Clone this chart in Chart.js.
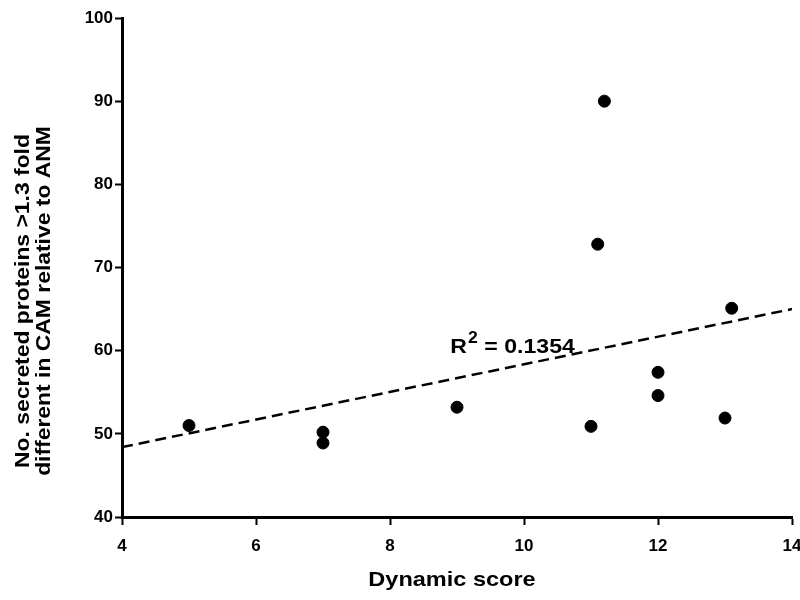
<!DOCTYPE html>
<html>
<head>
<meta charset="utf-8">
<script src="https://cdn.jsdelivr.net/npm/chart.js@4.4.1/dist/chart.umd.min.js"></script>
<style>
  html, body { margin: 0; padding: 0; background: #fff; }
  #wrap { width: 800px; height: 600px; }
</style>
</head>
<body>
<div id="wrap"><canvas id="scoreChart"></canvas></div>
<script>
// values
const dynamicScore = [5, 7, 7, 9, 11, 11.1, 11.2, 12, 12, 13, 13.1]
const secretedCount = [51, 50.2, 48.9, 53.2, 50.9, 72.8, 90, 57.4, 54.6, 51.9, 65.1]
const trendX = [4, 14]
const trendY = [48.4, 65.0]
const xTickValues = [4, 6, 8, 10, 12, 14]
const yTickValues = [40, 50, 60, 70, 80, 90, 100]
const xTitle = "Dynamic score"
const yTitleLines = ["No. secreted proteins >1.3 fold", "different in CAM relative to ANM"]
const rSquared = "0.1354"
const rLabelAt = [8.9, 60]

const FONT = "'Liberation Sans', Arial, sans-serif"

// axis titles and the R² note, drawn after the chart
const textPlugin = {
  id: "texts",
  afterDraw(chart) {
    const { ctx, chartArea, scales } = chart
    ctx.save()
    ctx.fillStyle = "#000"

    // x title
    ctx.font = "bold 21px " + FONT
    ctx.textAlign = "center"
    ctx.textBaseline = "middle"
    ctx.save()
    ctx.translate((chartArea.left + chartArea.right) / 2 - 5, 580)
    ctx.scale(1.12, 1)
    ctx.fillText(xTitle, 0, 0)
    ctx.restore()

    // y title, two lines
    ctx.save()
    ctx.translate(0, 301)
    ctx.rotate(-Math.PI / 2)
    ctx.scale(1.09, 1)
    ctx.fillText(yTitleLines[0], 0, 23)
    ctx.fillText(yTitleLines[1], 0, 44)
    ctx.restore()

    // R² = ...
    const px = scales.x.getPixelForValue(rLabelAt[0])
    const py = scales.y.getPixelForValue(rLabelAt[1])
    ctx.textAlign = "left"
    ctx.textBaseline = "alphabetic"
    ctx.translate(px, py)
    ctx.scale(1.1, 1)
    ctx.font = "bold 21px " + FONT
    ctx.fillText("R", 0, 2)
    let w = ctx.measureText("R").width
    ctx.font = "bold 16px " + FONT
    ctx.fillText("2", w + 1, -8)
    w += ctx.measureText("2").width + 1
    ctx.font = "bold 21px " + FONT
    ctx.fillText(" = " + rSquared, w, 2)
    ctx.restore()
  }
}

const ctx = document.getElementById("scoreChart")
new Chart(ctx, {
  type: "scatter",
  data: {
    datasets: [
      {
        label: "Samples",
        data: dynamicScore.map((x, i) => ({ x: x, y: secretedCount[i] })),
        backgroundColor: "#000",
        borderColor: "#000",
        pointRadius: 6,
        pointHoverRadius: 6,
      },
      {
        type: "line",
        label: "Trend",
        data: trendX.map((x, i) => ({ x: x, y: trendY[i] })),
        borderColor: "#000",
        borderWidth: 2.5,
        borderDash: [11, 6],
        pointRadius: 0,
        fill: false,
      },
    ],
  },
  options: {
    responsive: true,
    maintainAspectRatio: false,
    animation: false,
    layout: { padding: { top: 18, right: 8, left: 0, bottom: 0 } },
    plugins: {
      legend: { display: false },
      tooltip: { enabled: false },
    },
    scales: {
      x: {
        type: "linear",
        min: 4,
        max: 14,
        afterFit(scale) {
          scale.height = 83
          scale.paddingLeft = 0
          scale.paddingRight = 0
        },
        afterBuildTicks(scale) { scale.ticks = xTickValues.map(v => ({ value: v })) },
        border: { display: true, color: "#000", width: 3 },
        grid: { drawOnChartArea: false, drawTicks: true, tickLength: 8, tickWidth: 2, color: "#000" },
        ticks: { color: "#000", padding: 11, maxRotation: 0, font: { family: FONT, size: 17, weight: "bold" } },
      },
      y: {
        type: "linear",
        min: 40,
        max: 100,
        afterFit(scale) {
          scale.width = 122
          scale.paddingTop = 0
          scale.paddingBottom = 0
        },
        afterBuildTicks(scale) { scale.ticks = yTickValues.map(v => ({ value: v })) },
        border: { display: true, color: "#000", width: 3 },
        grid: { drawOnChartArea: false, drawTicks: true, tickLength: 7, tickWidth: 2, color: "#000" },
        ticks: { color: "#000", padding: 2, font: { family: FONT, size: 17, weight: "bold" } },
      },
    },
  },
  plugins: [textPlugin],
})
</script>
</body>
</html>
